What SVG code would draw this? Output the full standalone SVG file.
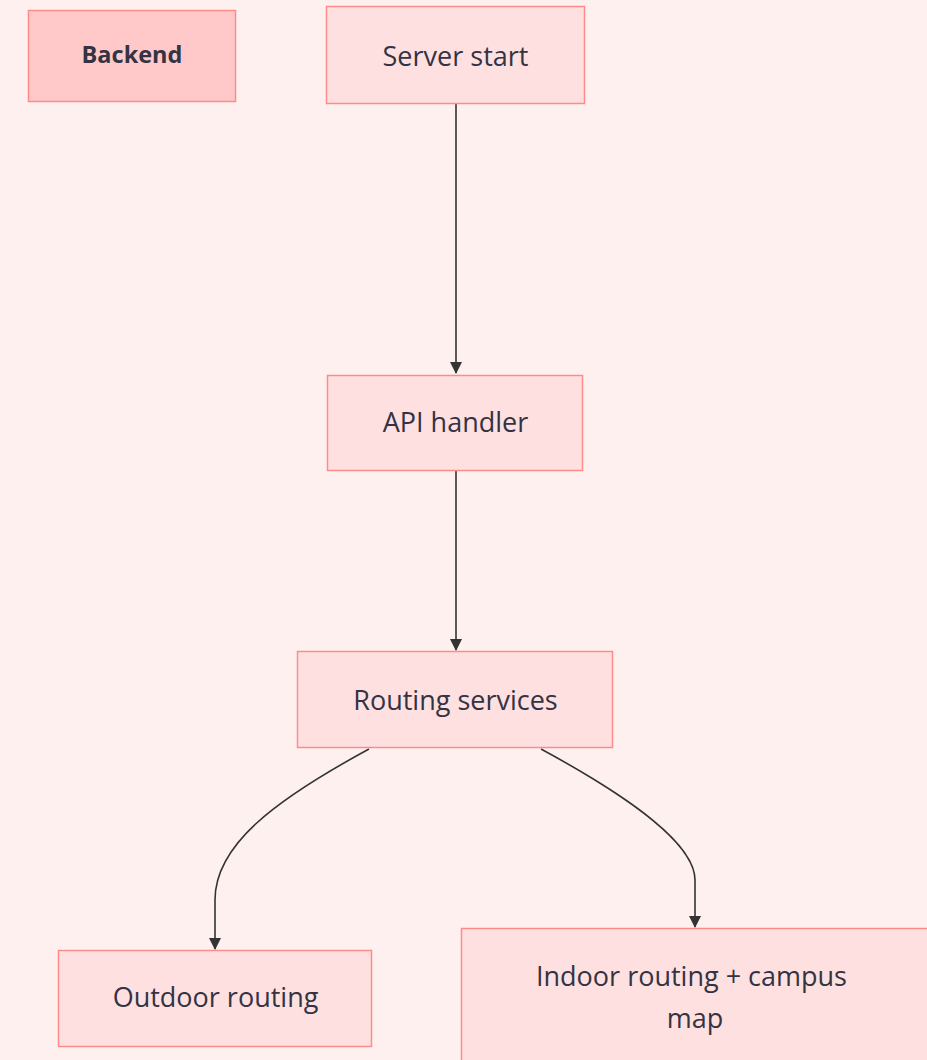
<svg xmlns="http://www.w3.org/2000/svg" width="927" height="1060" viewBox="0 0 927 1060">
<style>
.node rect{fill:#ffe0e0;stroke:#ff8a8a;stroke-width:1.5}
.node text{font-family:"Open Sans","Noto Sans",sans-serif;font-size:27px;fill:#333344;text-anchor:middle}
.edge{fill:none;stroke:#333;stroke-width:1.6}
</style>
<defs>
<marker id="arr" viewBox="0 0 12 12" refX="11" refY="6" markerWidth="12" markerHeight="12" markerUnits="userSpaceOnUse" orient="auto">
<path d="M0,0 L12,6 L0,12 z" fill="#333"/>
</marker>
</defs>
<rect width="927" height="1060" fill="#fff0f0"/>
<g id="connectors">
<path class="edge" d="M456,104 L456,373" marker-end="url(#arr)"/>
<path class="edge" d="M456,471 L456,650" marker-end="url(#arr)"/>
<path class="edge" d="M369,749 C275,800 215,845 215,900 L215,949" marker-end="url(#arr)"/>
<path class="edge" d="M541,749 C635,800 695,845 695,880 L695,927" marker-end="url(#arr)"/>
</g>
<g id="backend" class="node">
<rect x="28.5" y="10.5" width="207" height="91" style="fill:#ffc9c9"/>
<text x="132" y="63" style="font-weight:bold;font-size:23.5px">Backend</text>
</g>
<g id="server-start" class="node">
<rect x="326.5" y="6.5" width="258" height="97"/>
<text x="455.5" y="66">Server start</text>
</g>
<g id="api-handler" class="node">
<rect x="327.5" y="375.5" width="255" height="95"/>
<text x="455.5" y="432">API handler</text>
</g>
<g id="routing-services" class="node">
<rect x="297.5" y="651.5" width="315" height="96"/>
<text x="455.5" y="710">Routing services</text>
</g>
<g id="outdoor-routing" class="node">
<rect x="58.5" y="950.5" width="313" height="96"/>
<text x="215.5" y="1007">Outdoor routing</text>
</g>
<g id="indoor-routing" class="node">
<rect x="461.5" y="928.5" width="470" height="140"/>
<text x="691.5" y="986">Indoor routing + campus</text>
<text x="695" y="1028">map</text>
</g>
</svg>
